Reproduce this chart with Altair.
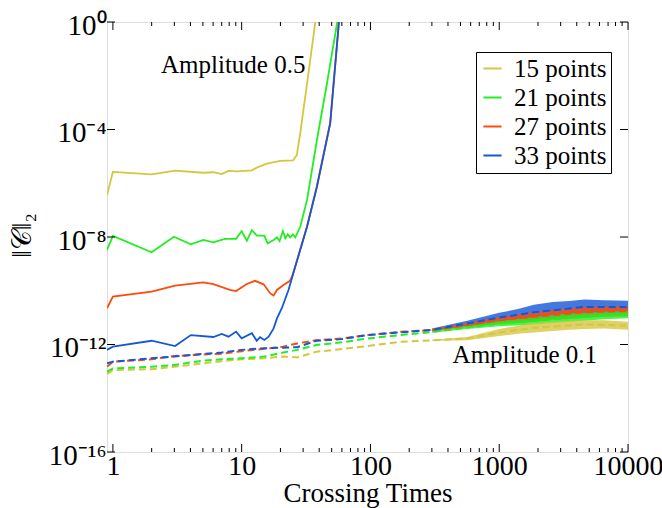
import altair as alt
import pandas as pd

# ---------------- data ----------------
series_names = ["15 points", "21 points", "27 points", "33 points"]
series_colors = ["#d6c63e", "#22ee22", "#ff4a0c", "#1458d6"]

# Amplitude 0.5 (solid lines): x = crossing times, e = log10(||C||_2)
x15 = [0.9, 1.0, 2.0, 3.04, 5.04, 6.03, 7.0, 7.9, 9.2, 12.0, 13.1, 15.7, 19.9, 25.0, 26.8, 28.5, 32.2, 37.2, 40.0]
e15 = [-6.44, -5.58, -5.67, -5.53, -5.61, -5.59, -5.66, -5.54, -5.56, -5.52, -5.42, -5.27, -5.17, -5.15, -4.95, -4.14, -2.28, -0.05, 1.0]

x21 = [0.9, 1.0, 2.0, 2.98, 4.03, 5.04, 6.03, 7.4, 9.05, 10.0, 10.96, 12.0, 13.1, 15.0, 15.9, 17.7, 18.8, 19.7,
       20.9, 21.8, 22.8, 23.8, 25.0, 26.1, 28.5, 32.2, 38.4, 46.0, 55.0, 60.0]
e21 = [-8.48, -7.96, -8.57, -7.99, -8.27, -8.11, -8.20, -8.07, -8.07, -7.78, -8.14, -7.74, -7.95, -7.95, -8.24, -8.11, -8.01, -8.15,
       -7.78, -8.05, -7.90, -8.01, -7.90, -8.01, -7.62, -6.62, -4.39, -2.28, -0.05, 1.1]

x27 = [0.9, 1.0, 2.0, 3.04, 5.04, 6.03, 8.1, 9.05, 10.96, 12.7, 14.8, 16.7, 17.7, 18.8, 21.1, 23.6, 24.6, 26.1, 32.2, 38.4, 48.7, 56.8, 62.0]
e27 = [-10.65, -10.22, -10.03, -9.81, -9.69, -9.75, -9.97, -10.01, -9.75, -9.63, -9.76, -10.10, -10.18, -9.97, -9.79, -9.64, -9.48, -9.08, -7.6, -6.11, -3.75, -0.03, 1.1]

x33 = [0.9, 1.0, 2.0, 3.04, 4.03, 6.03, 7.0, 7.9, 9.05, 10.0, 12.0, 13.1, 13.9, 15.0, 16.2, 17.7, 18.8, 20.5, 23.1, 26.1, 32.2, 38.4, 48.7, 56.8, 62.0]
e33 = [-12.20, -12.08, -11.86, -12.06, -11.65, -11.72, -11.61, -11.71, -11.52, -11.77, -11.58, -11.86, -11.73, -11.83, -11.71, -11.40, -11.03, -10.65, -9.97, -9.10, -7.62, -6.13, -3.77, -0.05, 1.1]

# Amplitude 0.1 (dashed lines)
xd = [0.9, 1, 2, 3, 5, 7, 10, 15, 21, 27, 38, 60, 94, 170, 310, 565, 1000, 1860, 4600, 10000]
ed15 = [-13.10, -12.95, -12.92, -12.83, -12.70, -12.62, -12.55, -12.51, -12.45, -12.48, -12.27, -12.17, -12.06, -11.90, -11.84, -11.78, -11.55, -11.38, -11.25, -11.30]
ed21 = [-13.01, -12.89, -12.83, -12.76, -12.60, -12.55, -12.51, -12.45, -12.30, -12.20, -12.02, -11.92, -11.78, -11.65, -11.53, -11.36, -11.22, -11.12, -10.97, -10.88]
ed27 = [-12.83, -12.64, -12.55, -12.43, -12.37, -12.34, -12.25, -12.16, -12.08, -11.96, -11.84, -11.78, -11.65, -11.53, -11.46, -11.28, -11.10, -10.97, -10.80, -10.75]
ed33 = [-12.70, -12.64, -12.51, -12.45, -12.35, -12.30, -12.20, -12.14, -12.12, -12.10, -11.86, -11.80, -11.65, -11.55, -11.45, -11.22, -11.00, -10.80, -10.60, -10.60]

# noise envelope of the Amplitude 0.1 runs at late times
xb = [300, 565, 1000, 1400, 1860, 2600, 3500, 4600, 6500, 10000]
lo15 = [-11.86, -11.84, -11.68, -11.60, -11.55, -11.50, -11.45, -11.42, -11.40, -11.45]
hi15 = [-11.82, -11.72, -11.42, -11.30, -11.20, -11.15, -11.12, -11.10, -11.10, -11.15]
lo21 = [-11.56, -11.42, -11.32, -11.29, -11.26, -11.20, -11.15, -11.12, -11.06, -11.02]
hi21 = [-11.50, -11.30, -11.12, -11.05, -10.98, -10.90, -10.85, -10.82, -10.78, -10.75]
lo27 = [-11.50, -11.36, -11.24, -11.20, -11.15, -11.08, -11.05, -11.00, -10.97, -10.95]
hi27 = [-11.42, -11.20, -10.98, -10.87, -10.80, -10.72, -10.65, -10.60, -10.58, -10.58]
lo33 = [-11.50, -11.32, -11.18, -11.12, -11.08, -11.00, -10.95, -10.90, -10.85, -10.85]
hi33 = [-11.40, -11.12, -10.82, -10.68, -10.52, -10.42, -10.38, -10.33, -10.35, -10.37]

# axis ticks
x_major = [1, 10, 100, 1000, 10000]
x_minor = [2, 3, 4, 5, 6, 7, 8, 9, 20, 30, 40, 50, 60, 70, 80, 90,
           200, 300, 400, 500, 600, 700, 800, 900, 2000, 3000, 4000, 5000, 6000, 7000, 8000, 9000]
y_major = [1e-16, 1e-12, 1e-8, 1e-4, 1]

# annotations
ann_text = ["Amplitude 0.5", "Amplitude 0.1"]
ann_x = [8.6, 1580]
ann_e = [-1.6, -12.39]

# ---------------- tables ----------------
solid_rows = []
for name, xs, es in zip(series_names, [x15, x21, x27, x33], [e15, e21, e27, e33]):
    for xv, ev in zip(xs, es):
        solid_rows.append({"x": xv, "e": ev, "series": name})
solid_df = pd.DataFrame(solid_rows)

dash_rows = []
for name, es in zip(series_names, [ed15, ed21, ed27, ed33]):
    for xv, ev in zip(xd, es):
        dash_rows.append({"x": xv, "e": ev, "series": name})
dash_df = pd.DataFrame(dash_rows)

band_dfs = {}
for name, lo, hi in zip(series_names, [lo15, lo21, lo27, lo33], [hi15, hi21, hi27, hi33]):
    band_dfs[name] = pd.DataFrame({"x": xb, "lo": lo, "hi": hi, "series": name})

ann_df = pd.DataFrame({"x": ann_x, "e": ann_e, "text": ann_text})

FONT = "Liberation Serif, Times New Roman, serif"
W, H = 521, 430

xscale = alt.Scale(type="log", domain=[0.9, 10000])
yscale = alt.Scale(type="log", domain=[1e-16, 1])
cscale = alt.Scale(domain=series_names, range=series_colors)

label_expr = ("datum.value >= 0.5 ? '10⁰' : datum.value >= 1e-5 ? '10⁻⁴' : "
              "datum.value >= 1e-9 ? '10⁻⁸' : datum.value >= 1e-13 ? '10⁻¹²' : '10⁻¹⁶'")

x_axis = alt.Axis(values=x_major, format="d", labelFont=FONT, labelFontSize=28, labelColor="black",
                  labelPadding=0, labelFlush=False, labelOverlap=False, tickSize=0, ticks=False,
                  domain=False, grid=False,
                  title="Crossing Times", titleFont=FONT, titleFontSize=27, titleFontWeight="normal",
                  titleColor="black", titleY=41, titleBaseline="middle")
y_axis = alt.Axis(values=y_major, labelExpr=label_expr, labelFont=FONT, labelFontSize=29, labelColor="black",
                  labelPadding=1, labelFlush=False, labelOverlap=False, labelOffset=3,
                  tickSize=0, ticks=False, domain=False, grid=False,
                  title="‖𝒞‖₂", titleFont=FONT, titleFontSize=27, titleFontWeight="normal",
                  titleColor="black", titleX=-85, titleY=213, titleAngle=-90, titleAlign="center",
                  titleBaseline="middle")

X = alt.X("x:Q", scale=xscale, axis=x_axis)
Y = alt.Y("y:Q", scale=yscale, axis=y_axis)

solid = alt.Chart(solid_df).transform_calculate(y="pow(10, datum.e)").mark_line(
    strokeWidth=1.8, clip=True
).encode(
    x=X, y=Y,
    color=alt.Color("series:N", scale=cscale, legend=alt.Legend(
        orient="none", legendX=369, legendY=30, title=None,
        labelFont=FONT, labelFontSize=25, labelColor="black",
        symbolType="stroke", symbolSize=330, symbolStrokeWidth=2,
        strokeColor="black", fillColor="white", padding=4, rowPadding=3, labelOffset=9,
    )),
    detail="series:N",
)

bands = []
for name in ["33 points", "27 points", "21 points", "15 points"]:
    bands.append(
        alt.Chart(band_dfs[name]).transform_calculate(
            y="pow(10, datum.lo)", yhi="pow(10, datum.hi)"
        ).mark_area(opacity=0.8, clip=True).encode(
            x=X, y=Y, y2="yhi:Q",
            color=alt.Color("series:N", scale=cscale, legend=None),
        )
    )

dashed = alt.Chart(dash_df).transform_calculate(y="pow(10, datum.e)").mark_line(
    strokeWidth=2, strokeDash=[7, 4], clip=True
).encode(
    x=X, y=Y,
    color=alt.Color("series:N", scale=cscale, legend=None),
    detail="series:N",
)

ann = alt.Chart(ann_df).transform_calculate(y="pow(10, datum.e)").mark_text(
    font=FONT, fontSize=25, color="black", align="center", baseline="middle"
).encode(x=X, y=Y, text="text:N")

xmaj_df = pd.DataFrame({"x": x_major})
xmin_df = pd.DataFrame({"x": x_minor})
ymaj_df = pd.DataFrame({"y": y_major})

def xticks(df, length):
    b = alt.Chart(df).mark_rule(color="black", strokeWidth=1).encode(
        x=X, y=alt.value(H), y2=alt.value(H - length))
    t = alt.Chart(df).mark_rule(color="black", strokeWidth=1).encode(
        x=X, y=alt.value(0), y2=alt.value(length))
    return [b, t]

def yticks(df, length):
    l = alt.Chart(df).mark_rule(color="black", strokeWidth=1).encode(
        y=Y, x=alt.value(0), x2=alt.value(length))
    r = alt.Chart(df).mark_rule(color="black", strokeWidth=1).encode(
        y=Y, x=alt.value(W), x2=alt.value(W - length))
    return [l, r]

tick_layers = xticks(xmaj_df, 8) + xticks(xmin_df, 4) + yticks(ymaj_df, 8)

chart = alt.layer(solid, *bands, dashed, ann, *tick_layers).properties(
    width=W, height=H,
    autosize=alt.AutoSizeParams(type="none"),
    padding={"left": 107, "top": 22, "right": 34, "bottom": 56},
).configure_view(
    stroke="black", strokeWidth=1.5
).configure(background="white")

chart.save("out.html", embed_options={"renderer": "svg", "actions": False})
